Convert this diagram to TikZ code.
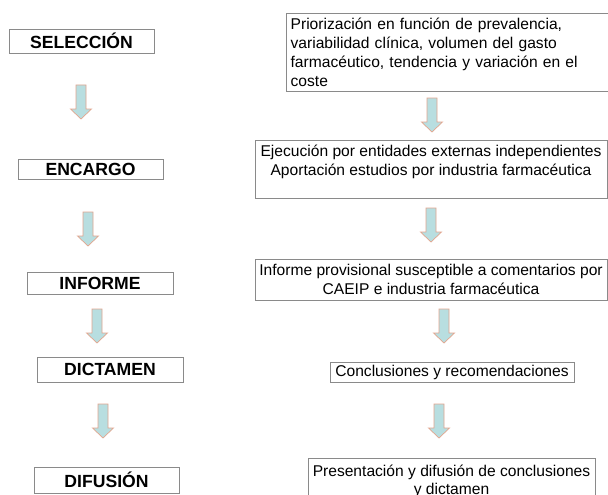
\documentclass[tikz,border=0pt]{standalone}
\usepackage{fontspec}
\setmainfont{Liberation Sans}
\begin{document}
\begin{tikzpicture}[x=1pt,y=-1pt,
  box/.style={draw=boxgray, line width=0.8pt, inner sep=0pt, minimum height=#1},
  stage/.style={box=#1, font=\fontsize{17.6}{20}\selectfont\bfseries},
  desc/.style={draw=boxgray, line width=0.8pt, inner xsep=4pt, inner ysep=1.5pt, align=center, font=\fontsize{15.6}{19}\selectfont},
  blockarrow/.pic={\filldraw[fill=arrowfill, draw=arrowline, line width=0.7pt]
     (-5,0) -- (5,0) -- (5,24) -- (10.5,24) -- (0,34) -- (-10.5,24) -- (-5,24) -- cycle;}
]
\definecolor{boxgray}{HTML}{8A8A8A}
\definecolor{arrowfill}{HTML}{B8DEE0}
\definecolor{arrowline}{HTML}{E2A58E}
\useasboundingbox (0,0) rectangle (608,495);
\clip (0,0) rectangle (608,495);
\fill[white] (0,0) rectangle (608,495);

% left column
\node[stage=24pt, minimum width=145pt] (sel) at (81.5,41) {SELECCIÓN};
\node[stage=20pt, minimum width=145pt] (enc) at (90.5,169) {ENCARGO};
\node[stage=22pt, minimum width=146pt] (inf) at (100,283) {INFORME};
\node[stage=25pt, minimum width=146pt] (dic) at (110,369.5) {DICTAMEN};
\node[stage=26pt, minimum width=145pt] (dif) at (106.5,480) {DIFUSIÓN};

\pic at (81,85) {blockarrow};
\pic at (88,212) {blockarrow};
\pic at (97,309) {blockarrow};
\pic at (103,404) {blockarrow};

% right column
\node[desc, align=left, anchor=north west, minimum width=321.5pt, minimum height=78pt, text width=313pt] (p1) at (286,13)
  {Priorización en función de prevalencia,\\variabilidad clínica, volumen del gasto\\farmacéutico, tendencia y variación en el\\coste};
\node[desc, anchor=north, minimum width=352pt, minimum height=58pt] (p2) at (431,140)
  {Ejecución por entidades externas independientes\\Aportación estudios por industria farmacéutica\\\mbox{}};
\node[desc, anchor=north, minimum width=352pt, minimum height=41pt] (p3) at (431,259)
  {Informe provisional susceptible a comentarios por\\CAEIP e industria farmacéutica};
\node[desc, minimum width=244pt, minimum height=20pt] (p4) at (452,372)
  {Conclusiones y recomendaciones};
\node[desc, anchor=north, inner ysep=0.3pt, font=\fontsize{15.6}{18}\selectfont, minimum width=287pt, minimum height=46pt] (p5) at (451.5,458)
  {Presentación y difusión de conclusiones\\y dictamen};

\pic at (432,98) {blockarrow};
\pic at (431,208) {blockarrow};
\pic at (444,309) {blockarrow};
\pic at (439,404) {blockarrow};
\end{tikzpicture}
\end{document}
